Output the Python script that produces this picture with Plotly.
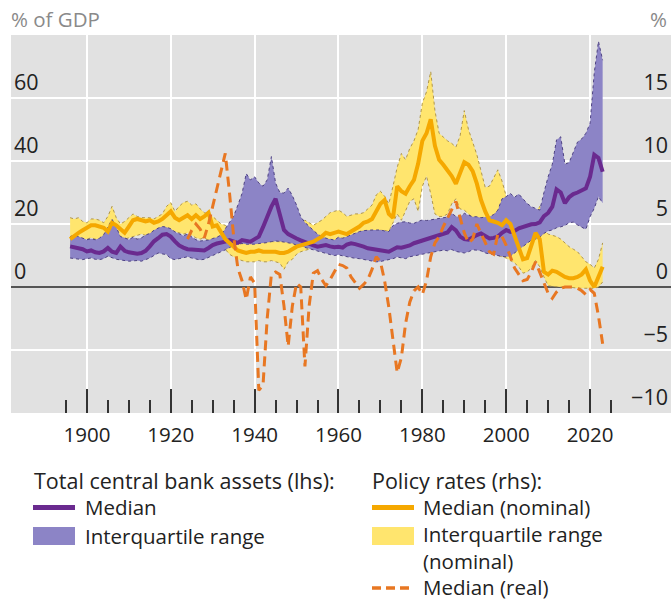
import plotly.graph_objects as go

# ---------------- data ----------------
years = list(range(1896, 2024))
real_years = list(range(1924, 2024))

# Total central bank assets, % of GDP (lhs)
assets_median = [
    12.9, 12.6, 12.3, 12.0,
    11.3, 11.6, 11.0, 10.8, 11.3, 12.4, 11.2, 10.8, 12.8, 11.5,
    11.0, 10.8, 10.6, 10.8, 11.5, 12.9, 14.5, 15.5, 16.6, 16.8,
    16.0, 14.5, 13.2, 12.5, 12.0, 11.9, 11.7, 11.5, 11.6, 12.4,
    13.3, 13.8, 14.0, 14.4, 14.9, 14.6, 14.0, 14.9, 14.5, 14.4,
    15.2, 16.0, 19.0, 22.5, 25.5, 28.0, 22.5, 18.1, 16.8, 16.0,
    15.4, 14.8, 14.2, 13.7, 13.2, 12.8, 13.1, 13.3, 12.9, 12.6,
    12.8, 12.5, 13.5, 13.9, 13.6, 13.3, 12.8, 12.3, 12.0, 11.8,
    11.6, 11.4, 11.2, 11.8, 12.6, 12.5, 12.8, 13.2, 13.9, 14.3,
    14.6, 15.0, 15.4, 16.0, 16.5, 16.9, 17.3, 19.0, 18.0, 16.0,
    15.2, 15.0, 15.8, 16.5, 17.0, 16.2, 15.4, 15.6, 16.0, 17.2,
    18.1, 17.5, 17.8, 18.6, 19.0, 19.6, 19.9, 20.0, 20.5, 22.5,
    23.5, 25.5, 31.0, 30.0, 26.6, 28.5, 29.5, 30.0, 30.5, 31.3,
    35.0, 42.0, 41.0, 36.6,
]
assets_q1 = [
    9.2, 9.0, 8.8, 8.7,
    9.0, 9.2, 8.8, 8.7, 9.0, 9.8, 9.3, 8.8, 8.6, 8.3,
    8.2, 8.3, 8.4, 8.2, 8.6, 9.2, 10.0, 10.8, 10.5, 10.3,
    9.0, 8.7, 9.0, 9.3, 9.6, 9.2, 9.0, 8.6, 8.8, 9.4,
    10.0, 10.5, 11.0, 11.8, 12.5, 13.3, 13.6, 13.8, 13.6, 13.5,
    13.6, 13.8, 13.9, 14.1, 14.4, 14.6, 14.5, 14.3, 14.2, 13.8,
    13.3, 12.9, 12.5, 12.2, 11.8, 11.5, 11.0, 10.7, 10.3, 10.0,
    10.2, 9.9, 9.6, 9.4, 9.1, 9.0, 8.8, 8.6, 8.3, 8.0,
    8.1, 8.4, 8.6, 9.0, 9.5, 9.2, 9.0, 9.6, 9.8, 10.2,
    10.4, 10.7, 10.9, 11.2, 11.5, 11.7, 11.5, 11.9, 11.3, 11.0,
    10.8, 11.2, 11.8, 11.7, 11.5, 10.8, 10.6, 10.2, 10.0, 9.7,
    9.6, 9.8, 10.8, 11.8, 13.0, 14.0, 14.9, 15.2, 15.8, 17.0,
    17.8, 18.1, 18.8, 19.1, 19.5, 20.4, 20.6, 19.7, 19.0, 18.3,
    22.3, 25.0, 28.7, 26.6,
]
assets_q3 = [
    16.0, 16.5, 16.0, 15.5,
    15.0, 15.3, 15.0, 15.5, 16.6, 19.0, 21.5, 19.0, 16.0, 15.6,
    15.0, 15.8, 15.2, 15.6, 16.5, 17.0, 18.0, 18.7, 19.2, 19.0,
    18.5, 17.5, 16.8, 16.3, 16.8, 16.0, 15.0, 14.6, 14.8, 14.9,
    15.4, 15.8, 16.5, 18.5, 20.2, 22.5, 26.0, 29.7, 36.0, 34.0,
    35.0, 33.0, 32.0, 34.0, 41.4, 33.0, 30.0, 29.8, 31.4, 29.0,
    26.0, 22.3, 20.5, 19.1, 18.0, 16.8, 16.0, 15.5, 15.2, 14.9,
    15.8, 15.5, 16.0, 16.6, 17.2, 17.6, 17.9, 18.1, 18.1, 18.1,
    18.1, 17.8, 17.6, 19.5, 20.2, 20.6, 20.7, 20.3, 20.2, 20.8,
    21.3, 21.1, 21.3, 21.4, 21.6, 21.8, 22.2, 23.4, 22.4, 22.3,
    23.4, 22.8, 22.3, 22.3, 22.0, 22.2, 22.3, 23.0, 24.4, 28.0,
    28.7, 29.7, 28.5, 29.5, 28.0, 26.5, 25.5, 25.0, 24.4, 30.0,
    35.0, 39.0, 46.7, 47.7, 39.0, 39.5, 43.0, 46.0, 47.0, 48.8,
    52.0, 68.0, 78.0, 72.0,
]

# Policy rates, % (rhs)
rate_nominal_median = [
    3.8, 4.1, 4.3, 4.5,
    4.7, 4.9, 4.9, 4.8, 4.7, 4.4, 5.1, 4.9, 4.6, 4.3,
    4.8, 5.3, 5.4, 5.3, 5.2, 5.3, 5.1, 5.2, 5.4, 5.7,
    6.0, 5.5, 5.3, 5.5, 5.7, 5.4, 5.7, 5.4, 5.6, 5.9,
    4.8, 4.9, 4.3, 3.8, 3.5, 3.2, 2.9, 2.8, 2.7, 2.8,
    2.8, 2.9, 2.8, 2.8, 2.8, 2.8, 2.7, 2.7, 2.8, 3.0,
    3.2, 3.3, 3.4, 3.5, 3.6, 3.8, 4.0, 4.3, 4.2, 4.3,
    4.4, 4.3, 4.2, 4.4, 4.6, 4.8, 5.1, 5.2, 5.4, 6.0,
    6.6, 6.9, 5.8, 5.5, 8.0, 7.6, 7.4, 8.0, 8.5, 9.8,
    11.6, 12.2, 13.3, 11.2, 10.1, 9.7, 9.3, 8.8, 8.2, 9.0,
    9.9, 9.7, 9.2, 8.2, 6.9, 6.0, 5.3, 5.2, 5.1, 4.9,
    5.3, 5.0, 4.0, 3.0, 2.2, 2.3, 3.3, 4.3, 3.8, 1.2,
    1.0, 1.3, 1.2, 1.0, 0.8, 0.7, 0.7, 0.8, 1.0, 1.4,
    0.5, 0.0, 0.9, 1.6,
]
rate_nominal_q1 = [
    3.4, 3.5, 3.6, 3.7,
    3.8, 3.9, 3.8, 3.7, 3.8, 3.9, 4.1, 3.8, 3.7, 3.8,
    3.9, 4.0, 4.1, 4.2, 4.1, 4.0, 4.1, 4.2, 4.3, 4.4,
    4.5, 4.4, 4.3, 4.2, 4.3, 4.1, 3.9, 3.8, 3.9, 3.7,
    3.6, 3.4, 3.2, 3.0, 2.6, 2.4, 2.2, 2.1, 2.0, 2.0,
    2.0, 2.1, 2.0, 2.0, 2.1, 2.0, 1.9, 1.4, 2.0, 2.2,
    2.6, 2.8, 2.9, 3.0, 3.1, 3.3, 3.3, 3.4, 3.5, 3.5,
    3.5, 3.4, 3.4, 3.5, 3.7, 3.8, 3.9, 4.0, 4.2, 4.4,
    4.5, 4.5, 4.4, 5.1, 5.8, 5.3, 6.0, 6.8, 7.0, 6.0,
    8.0, 8.8, 7.4, 5.8, 5.6, 5.6, 5.8, 6.6, 7.0, 6.2,
    6.1, 5.8, 5.5, 4.5, 3.5, 3.1, 2.9, 2.7, 2.5, 2.4,
    2.3, 2.1, 1.9, 1.6, 1.1, 1.2, 1.5, 2.1, 1.6, 0.8,
    0.1, 0.05, 0.0, 0.0, 0.0, 0.0, -0.05, -0.1, -0.1, -0.1,
    -0.1, -0.1, 0.0, 0.4,
]
rate_nominal_q3 = [
    5.5, 5.4, 5.5, 5.2,
    5.1, 5.4, 5.4, 5.3, 5.1, 5.6, 6.4, 5.5, 5.0, 5.2,
    5.5, 5.8, 5.6, 5.5, 5.5, 5.5, 5.4, 5.6, 5.8, 6.4,
    6.7, 6.0, 6.4, 6.7, 6.8, 6.5, 6.6, 6.2, 5.9, 5.8,
    5.6, 5.3, 5.0, 4.9, 4.6, 4.3, 4.0, 3.8, 3.6, 3.5,
    3.5, 3.6, 3.6, 3.6, 3.6, 3.6, 3.6, 3.7, 3.7, 4.0,
    4.4, 4.9, 5.3, 5.1, 4.9, 5.1, 5.3, 5.6, 5.9, 6.0,
    6.1, 5.9, 5.6, 5.7, 5.8, 5.8, 5.9, 6.2, 6.5, 7.3,
    7.6, 7.2, 6.6, 8.0, 9.5, 10.6, 10.1, 11.0, 11.6, 12.5,
    14.6, 15.5, 17.1, 14.0, 12.2, 11.9, 11.6, 11.4, 11.1, 12.0,
    14.0, 12.5, 11.5, 10.5, 9.2, 7.9, 8.0, 8.7, 9.3, 8.4,
    7.2, 6.9, 6.2, 5.6, 5.1, 5.3, 5.6, 6.0, 6.4, 4.5,
    4.2, 4.1, 4.0, 3.8, 3.5, 3.2, 3.0, 2.8, 2.4, 2.0,
    1.8, 1.5, 2.2, 3.5,
]
rate_real_median = [
    3.8, 4.5, 5.0, 4.6, 3.9, 5.0,
    6.4, 7.8, 9.3, 10.6, 7.5, 4.0, 1.5, 0.5, -1.0, 0.8,
    0.3, -8.2, -7.8, -2.5, 1.0, 1.2, 1.0, -1.5, -4.7, -1.5,
    0.3, 0.0, -6.3, -1.5, 1.1, 1.3, 0.6, 0.1, 0.6, 1.2,
    1.8, 1.7, 1.5, 0.8, 0.3, -0.1, 0.2, 0.6, 1.4, 2.4,
    2.0, 0.5, -1.6, -4.0, -6.8, -5.6, -2.9, -1.2, -0.3, 0.0,
    -0.6, 0.5, 2.4, 3.5, 4.0, 4.8, 5.5, 6.1, 6.8, 5.5,
    4.3, 3.5, 3.8, 5.0, 4.3, 3.5, 2.8, 2.6, 4.2, 4.0,
    3.3, 2.4, 1.5, 1.0, 0.5, 0.6, 1.2, 2.0, 1.2, 0.3,
    -0.5, -0.9, -0.4, -0.1, 0.0, 0.0, 0.0, -0.1, -0.3, -0.6,
    -0.2, -0.5, -2.3, -4.5,
]

x_major = [1900, 1920, 1940, 1960, 1980, 2000, 2020]
x_minor = [1895, 1905, 1910, 1915, 1925, 1930, 1935, 1945, 1950, 1955, 1965,
           1970, 1975, 1985, 1990, 1995, 2005, 2010, 2015, 2025]
lhs_ticks = [0, 20, 40, 60]
rhs_ticks = [-10, -5, 0, 5, 10, 15]

# ---------------- style ----------------
FONT = "Open Sans"
PURPLE = "#6a2a8f"
LAVENDER = "#8c84c6"
PURPLE_EDGE = "#4e4283"
ORANGE = "#f5a800"
YELLOW = "#ffe56e"
YELLOW_EDGE = "#b0964a"
REAL = "#e87722"
BG = "#e1e1e1"
TXT = "#222222"

W, H = 671, 600
L, R, T, B = 11, 0, 35, 187


def px(xp):
    return (xp - L) / (W - L - R)


def py(yp):
    return (H - B - yp) / (H - B - T)


fig = go.Figure()

# yellow IQR (rhs, base axis -> lowest layer)
fig.add_trace(go.Scatter(x=years, y=rate_nominal_q1, yaxis="y", mode="lines",
                         line=dict(color=YELLOW_EDGE, width=1, dash="3px,3px"),
                         showlegend=False, hoverinfo="skip"))
fig.add_trace(go.Scatter(x=years, y=rate_nominal_q3, yaxis="y", mode="lines",
                         fill="tonexty", fillcolor=YELLOW,
                         line=dict(color=YELLOW_EDGE, width=1, dash="3px,3px"),
                         showlegend=False, hoverinfo="skip"))
# purple IQR + median (lhs)
fig.add_trace(go.Scatter(x=years, y=assets_q1, yaxis="y2", mode="lines",
                         line=dict(color=PURPLE_EDGE, width=1, dash="3px,3px"),
                         showlegend=False, hoverinfo="skip"))
fig.add_trace(go.Scatter(x=years, y=assets_q3, yaxis="y2", mode="lines",
                         fill="tonexty", fillcolor=LAVENDER,
                         line=dict(color=PURPLE_EDGE, width=1, dash="3px,3px"),
                         showlegend=False, hoverinfo="skip"))
fig.add_trace(go.Scatter(x=years, y=assets_median, yaxis="y2", mode="lines",
                         line=dict(color=PURPLE, width=4), showlegend=False))
# policy-rate lines (rhs, top layer)
fig.add_trace(go.Scatter(x=years, y=rate_nominal_median, yaxis="y3", mode="lines",
                         line=dict(color=ORANGE, width=4), showlegend=False))
fig.add_trace(go.Scatter(x=real_years, y=rate_real_median, yaxis="y3", mode="lines",
                         line=dict(color=REAL, width=3, dash="10px,6px"),
                         showlegend=False))

tickfont = dict(family=FONT, size=21.5, color=TXT)

fig.update_layout(
    width=W, height=H,
    margin=dict(l=L, r=R, t=T, b=B, pad=0),
    paper_bgcolor="white", plot_bgcolor=BG,
    font=dict(family=FONT, size=20, color=TXT),
    showlegend=False,
    xaxis=dict(
        range=[1881.9, 2039.3], tickmode="array", tickvals=x_major,
        ticktext=[str(v) for v in x_major],
        ticks="inside", ticklen=24, tickwidth=1.5, tickcolor="#333",
        showgrid=True, gridcolor="white", gridwidth=1.5,
        zeroline=False, showline=False,
        tickfont=dict(family=FONT, size=20.5, color=TXT),
        ticklabelstandoff=7,
        minor=dict(tickmode="array", tickvals=x_minor, ticks="inside", ticklen=13,
                   tickwidth=1.5, tickcolor="#333", showgrid=False),
    ),
    yaxis=dict(
        range=[-10, 20], side="right", tickmode="array", tickvals=rhs_ticks,
        ticktext=["\u221210", "\u22125", "0", "5", "10", "15"],
        ticklabelposition="inside top", ticks="",
        showgrid=True, gridcolor="white", gridwidth=1.5,
        zeroline=True, zerolinecolor="#555", zerolinewidth=2,
        showline=False, tickfont=tickfont,
    ),
    yaxis2=dict(
        range=[-40, 80], side="left", overlaying="y", tickmode="array",
        tickvals=lhs_ticks, ticktext=[str(v) for v in lhs_ticks],
        ticklabelposition="inside top", ticks="",
        showgrid=False, zeroline=False, showline=False, tickfont=tickfont,
    ),
    yaxis3=dict(
        range=[-10, 20], overlaying="y", visible=False,
        showgrid=False, zeroline=False,
    ),
)

# axis unit titles
fig.add_annotation(text="% of GDP", xref="paper", yref="paper", x=px(9), y=py(19),
                   xanchor="left", yanchor="middle", showarrow=False,
                   font=dict(family=FONT, size=20.5, color="#8a8a8a"))
fig.add_annotation(text="%", xref="paper", yref="paper", x=px(669), y=py(19),
                   xanchor="right", yanchor="middle", showarrow=False,
                   font=dict(family=FONT, size=20.5, color="#8a8a8a"))

# ---------------- legend (drawn manually) ----------------
title_font = dict(family=FONT, size=21.5, color=TXT)
item_font = dict(family=FONT, size=20.5, color=TXT)


def leg_text(text, xp, yp, font):
    fig.add_annotation(text=text, xref="paper", yref="paper", x=px(xp), y=py(yp),
                       xanchor="left", yanchor="middle", showarrow=False,
                       font=font, align="left", borderpad=0)


leg_text("Total central bank assets (lhs):", 33, 480, title_font)
leg_text("Policy rates (rhs):", 371, 480, title_font)

fig.add_shape(type="line", xref="paper", yref="paper", x0=px(33), x1=px(75),
              y0=py(507.5), y1=py(507.5), line=dict(color=PURPLE, width=5))
leg_text("Median", 84, 507, item_font)
fig.add_shape(type="rect", xref="paper", yref="paper", x0=px(33), x1=px(75),
              y0=py(527), y1=py(545), fillcolor=LAVENDER, line=dict(width=0))
leg_text("Interquartile range", 84, 536, item_font)

fig.add_shape(type="line", xref="paper", yref="paper", x0=px(372), x1=px(414),
              y0=py(507.5), y1=py(507.5), line=dict(color=ORANGE, width=5))
leg_text("Median (nominal)", 422, 507, item_font)
fig.add_shape(type="rect", xref="paper", yref="paper", x0=px(372), x1=px(414),
              y0=py(527), y1=py(545), fillcolor=YELLOW, line=dict(width=0))
leg_text("Interquartile range<br>(nominal)", 422, 547.5, item_font)
fig.add_shape(type="line", xref="paper", yref="paper", x0=px(372), x1=px(414),
              y0=py(588), y1=py(588), line=dict(color=REAL, width=3.5, dash="9px,5px"))
leg_text("Median (real)", 422, 587, item_font)

fig.write_html("out.html")
